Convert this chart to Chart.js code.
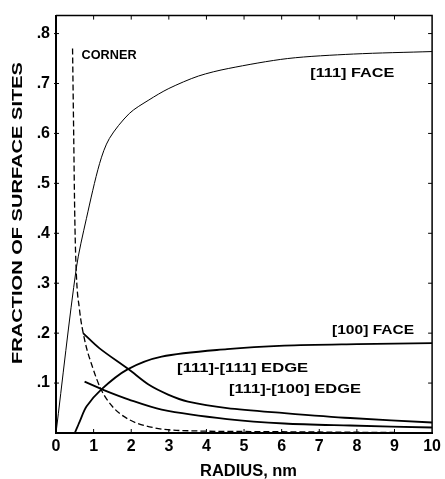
<!DOCTYPE html>
<html>
<head>
<meta charset="utf-8">
<script src="https://cdn.jsdelivr.net/npm/chart.js@4"></script>
<style>
  html, body { margin: 0; padding: 0; background: #fff; }
  #wrap { width: 445px; height: 479px; }
</style>
</head>
<body>
<div id="wrap"><canvas id="grafico" width="445" height="479"></canvas></div>
<script>
// eixo X: raio em nm ; eixo Y: fração dos sítios superficiais
const xTicks = [0, 1, 2, 3, 4, 5, 6, 7, 8, 9, 10];
const yTicks = [0.1, 0.2, 0.3, 0.4, 0.5, 0.6, 0.7, 0.8];

// [111] face
const face111R = [0, 0.54, 0.81, 1.16, 1.42, 1.95, 2.47, 3.0, 3.79, 4.58, 6.16, 7.91, 10];
const face111F = [0, 0.33, 0.43, 0.54, 0.59, 0.64, 0.667, 0.69, 0.715, 0.73, 0.75, 0.759, 0.764];

// corner (tracejada)
const cornerR = [0.44, 0.47, 0.5, 0.54, 0.62, 0.76, 0.98, 1.2, 1.5, 1.94, 2.64, 3.8, 5, 7, 9];
const cornerF = [0.77, 0.6, 0.43, 0.32, 0.25, 0.187, 0.13, 0.087, 0.053, 0.027, 0.01, 0.004, 0.003, 0.002, 0.001];

// [111]-[111] edge
const edge111R = [0.72, 1.15, 1.94, 2.46, 2.98, 3.51, 4.55, 6.07, 7.82, 10];
const edge111F = [0.2, 0.17, 0.127, 0.097, 0.077, 0.063, 0.05, 0.04, 0.03, 0.021];

// [111]-[100] edge
const edge100R = [0.76, 1.24, 1.94, 2.81, 4.55, 6.07, 7.82, 10];
const edge100F = [0.103, 0.087, 0.067, 0.047, 0.028, 0.019, 0.015, 0.011];

// [100] face
const face100R = [0.5, 0.63, 0.81, 1.2, 1.89, 2.81, 4.55, 6.07, 8, 10];
const face100F = [0, 0.023, 0.053, 0.087, 0.127, 0.153, 0.168, 0.175, 0.178, 0.18];

// rótulos dentro do gráfico (posição em coordenadas de dados)
const rotulos = [
    { texto: 'CORNER', x: 0.68, y: 0.755, largura: 55 },
    { texto: '[111] FACE', x: 6.76, y: 0.719, largura: 84 },
    { texto: '[100] FACE', x: 7.34, y: 0.205, largura: 82 },
    { texto: '[111]-[111] EDGE', x: 3.22, y: 0.129, largura: 131 },
    { texto: '[111]-[100] EDGE', x: 4.6, y: 0.087, largura: 132 }
];

const FONTE = '"Liberation Sans", Arial, sans-serif';

function pares(xs, ys) {
    return xs.map((x, i) => ({ x: x, y: ys[i] }));
}

function textoEsticado(ctx, texto, x, y, largura, fonte) {
    ctx.save();
    ctx.font = fonte;
    const w = ctx.measureText(texto).width;
    ctx.translate(x, y);
    ctx.scale(largura / w, 1);
    ctx.textAlign = 'left';
    ctx.textBaseline = 'middle';
    ctx.fillText(texto, 0, 0);
    ctx.restore();
}

// moldura, marcas internas, rótulos e títulos dos eixos
const extras = {
    id: 'extras',
    afterDatasetsDraw(chart) {
        const ctx = chart.ctx;
        const a = chart.chartArea;
        const sx = chart.scales.x;
        const sy = chart.scales.y;
        ctx.save();
        ctx.strokeStyle = '#000';
        ctx.lineWidth = 1.5;
        ctx.beginPath();
        ctx.moveTo(a.left, a.top);
        ctx.lineTo(a.right, a.top);
        ctx.lineTo(a.right, a.bottom);
        ctx.stroke();

        ctx.lineWidth = 1;
        ctx.beginPath();
        xTicks.forEach(v => {
            if (v === 0 || v === 10) return;
            const px = sx.getPixelForValue(v);
            ctx.moveTo(px, a.bottom);
            ctx.lineTo(px, a.bottom - 4);
            ctx.moveTo(px, a.top);
            ctx.lineTo(px, a.top + 4);
        });
        yTicks.forEach(v => {
            const py = sy.getPixelForValue(v);
            ctx.moveTo(a.left - 2, py);
            ctx.lineTo(a.left + 3, py);
            ctx.moveTo(a.right, py);
            ctx.lineTo(a.right - 4, py);
        });
        ctx.stroke();

        ctx.fillStyle = '#000';
        rotulos.forEach(r => {
            textoEsticado(ctx, r.texto, sx.getPixelForValue(r.x), sy.getPixelForValue(r.y), r.largura, 'bold 12px ' + FONTE);
        });

        // título do eixo X
        textoEsticado(ctx, 'RADIUS, nm', 200, 472, 97, 'bold 16px ' + FONTE);

        // título do eixo Y (girado)
        ctx.save();
        ctx.translate(18, 213);
        ctx.rotate(-Math.PI / 2);
        textoEsticado(ctx, 'FRACTION OF SURFACE SITES', -151, 0, 302, 'bold 15px ' + FONTE);
        ctx.restore();
        ctx.restore();
    }
};

function serie(label, xs, ys, largura, extra) {
    return Object.assign({
        label: label,
        data: pares(xs, ys),
        borderColor: '#000',
        borderWidth: largura,
        pointRadius: 0,
        tension: 0.3
    }, extra || {});
}

const ctx = document.getElementById('grafico').getContext('2d');
const grafico = new Chart(ctx, {
    type: 'line',
    data: {
        datasets: [
            serie('[111] FACE', face111R, face111F, 1),
            serie('CORNER', cornerR, cornerF, 1.3, { borderDash: [6, 3], cubicInterpolationMode: 'monotone' }),
            serie('[111]-[111] EDGE', edge111R, edge111F, 1.8),
            serie('[111]-[100] EDGE', edge100R, edge100F, 1.8),
            serie('[100] FACE', face100R, face100F, 1.8)
        ]
    },
    options: {
        responsive: false,
        animation: false,
        clip: false,
        layout: { padding: { top: 15, right: 7, left: 0, bottom: 0 } },
        plugins: {
            legend: { display: false },
            tooltip: { enabled: false }
        },
        scales: {
            x: {
                type: 'linear',
                min: 0,
                max: 10,
                afterBuildTicks: s => { s.ticks = xTicks.map(v => ({ value: v })); },
                afterFit: s => { s.height = 46; },
                grid: { drawOnChartArea: false, drawTicks: false },
                border: { display: true, width: 2, color: '#000' },
                ticks: {
                    color: '#000',
                    padding: 4,
                    maxRotation: 0,
                    font: { family: FONTE, size: 16, weight: 'bold' }
                }
            },
            y: {
                type: 'linear',
                min: 0,
                max: 0.836,
                afterBuildTicks: s => { s.ticks = yTicks.map(v => ({ value: v })); },
                afterFit: s => { s.width = 56; },
                grid: { drawOnChartArea: false, drawTicks: false },
                border: { display: true, width: 2, color: '#000' },
                ticks: {
                    color: '#000',
                    padding: 6,
                    font: { family: FONTE, size: 16, weight: 'bold' },
                    callback: v => '.' + Math.round(v * 10)
                }
            }
        }
    },
    plugins: [extras]
});
</script>
</body>
</html>
